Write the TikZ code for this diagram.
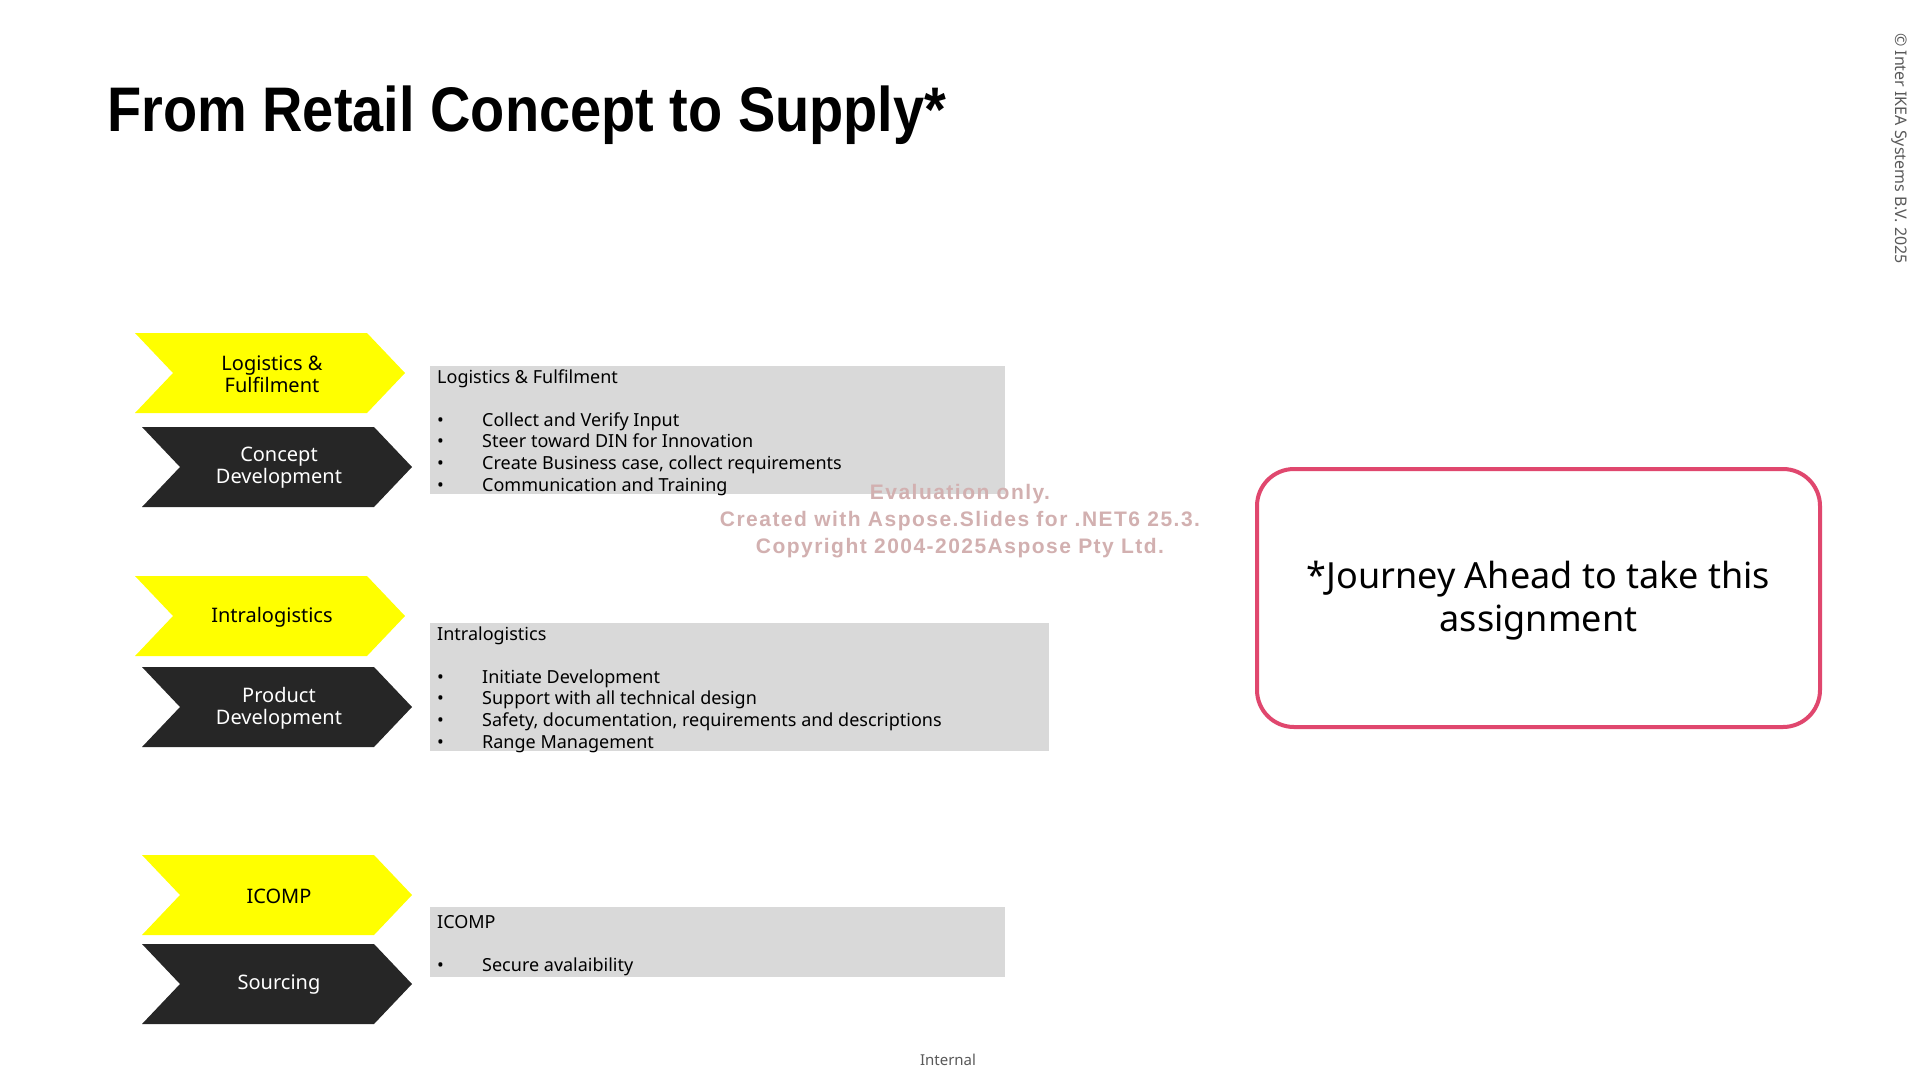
\documentclass[tikz,border=0pt]{standalone}
\usepackage{fontspec}
\setmainfont{Noto Sans}
\newfontfamily\headfont{Liberation Sans}
\newfontfamily\stampfont[LetterSpace=7]{Liberation Sans}

\definecolor{chevyellow}{RGB}{255,255,0}
\definecolor{chevdark}{RGB}{38,38,38}
\definecolor{panelgrey}{RGB}{217,217,217}
\definecolor{framepink}{RGB}{224,71,110}
\definecolor{notegrey}{RGB}{89,89,89}
\definecolor{stampcol}{RGB}{210,176,176}

\newcommand{\bul}{\makebox[45pt][l]{\textbullet}}

\tikzset{
  chevlabel/.style={font=\fontsize{20}{22}\selectfont, align=center, inner sep=0pt},
  panel/.style={fill=panelgrey, draw=none, anchor=north west, inner sep=0pt},
  paneltext/.style={font=\fontsize{18}{21.6}\selectfont, anchor=base west, inner sep=0pt},
  stamp/.style={font=\stampfont\bfseries\fontsize{21}{24}\selectfont, text=stampcol, inner sep=0pt},
}

% chevron: left x, top y, fill colour, text colour, node name, label
\newcommand{\chevron}[6]{%
  \fill[#3] (#1,#2) -- ++(232,0) -- ++(38,40) -- ++(-38,40) -- ++(-232,0) -- ++(38,-40) -- cycle;
  \node[chevlabel, text=#4] (#5) at ({#1+137},{#2+41}) {#6};
}

\begin{document}
\begin{tikzpicture}[x=1pt,y=-1pt]
\useasboundingbox (0,0) rectangle (1920,1080);
\fill[white] (0,0) rectangle (1920,1080);

% heading
\node[anchor=base west, inner sep=0pt] (title) at (107,131)
  {\headfont\bfseries\fontsize{63}{70}\selectfont\scalebox{0.888}[1]{From Retail Concept to Supply*}};

% copyright line along the right edge
\node[rotate=-90, anchor=west, inner sep=0pt, text=notegrey, font=\fontsize{16}{18}\selectfont] (copy) at (1899,33)
  {© Inter IKEA Systems B.V. 2025};

% chevrons
\chevron{135}{333}{chevyellow}{black}{logi}{Logistics \&\\Fulfilment}
\chevron{142}{427}{chevdark}{white}{concept}{Concept\\Development}
\chevron{135}{576}{chevyellow}{black}{intra}{Intralogistics}
\chevron{142}{667}{chevdark}{white}{product}{Product\\Development}
\chevron{142}{855}{chevyellow}{black}{icomp}{ICOMP}
\chevron{142}{944}{chevdark}{white}{sourcing}{Sourcing}

% grey panels
\node[panel, minimum width=575pt, minimum height=128pt] (p1) at (430,366) {};
\node[panel, minimum width=619pt, minimum height=128pt] (p2) at (430,623) {};
\node[panel, minimum width=575pt, minimum height=70pt] (p3) at (430,907) {};

% panel 1 text
\node[paneltext] (p1h) at (437,383) {Logistics \& Fulfilment};
\foreach \t [count=\i] in {Collect and Verify Input, Steer toward DIN for Innovation, {Create Business case, collect requirements}, Communication and Training}
  \node[paneltext] (p1b\i) at (437,{383+43.2+21.6*(\i-1)}) {\bul\t};

% panel 2 text
\node[paneltext] (p2h) at (437,640) {Intralogistics};
\foreach \t [count=\i] in {Initiate Development, Support with all technical design, {Safety, documentation, requirements and descriptions}, Range Management}
  \node[paneltext] (p2b\i) at (437,{640+43.2+21.6*(\i-1)}) {\bul\t};

% panel 3 text
\node[paneltext] (p3h) at (437,928) {ICOMP};
\node[paneltext] (p3b1) at (437,971.2) {\bul Secure avalaibility};

% rounded note box
\node[draw=framepink, line width=4pt, rounded corners=37pt, minimum width=563pt, minimum height=258pt] (goal) at (1538.5,598) {};
\node[align=center, font=\fontsize{36}{43}\selectfont, inner sep=0pt] (goaltext) at (1538.5,601)
  {*Journey Ahead to take this\\assignment};

% evaluation stamp
\node[stamp] (st1) at (960,494.5) {Evaluation only.};
\node[stamp] (st2) at (960,521.5) {Created with Aspose.Slides for .NET6 25.3.};
\node[stamp] (st3) at (960,548.5) {Copyright 2004-2025Aspose Pty Ltd.};

% footer
\node[text=notegrey, font=\fontsize{15}{18}\selectfont, inner sep=0pt] (footer) at (948,1060) {Internal};
\end{tikzpicture}
\end{document}
